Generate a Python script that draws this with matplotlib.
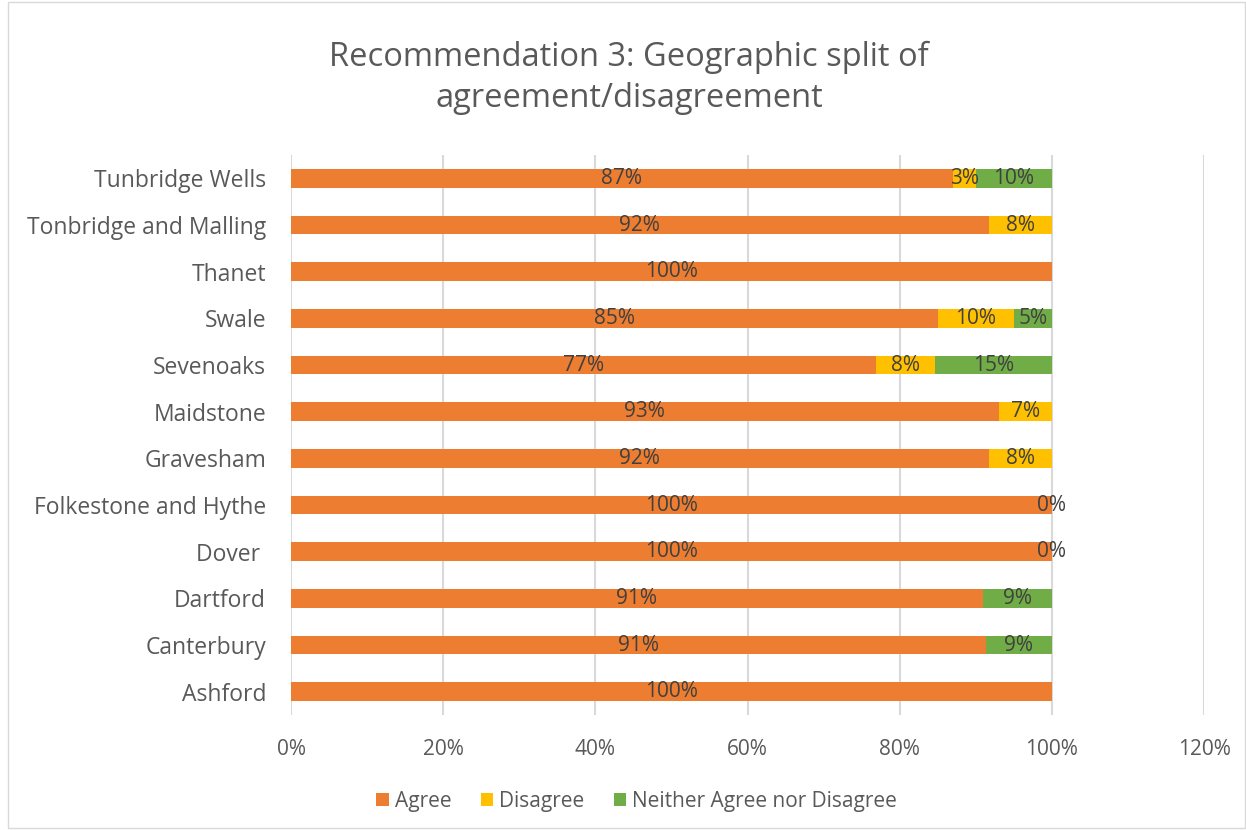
import numpy as np
import matplotlib.pyplot as plt
from matplotlib.patches import Rectangle

plt.rcParams['font.family'] = ['Open Sans', 'DejaVu Sans']

areas = ['Ashford', 'Canterbury', 'Dartford', 'Dover ', 'Folkestone and Hythe', 'Gravesham',
         'Maidstone', 'Sevenoaks', 'Swale', 'Thanet', 'Tonbridge and Malling', 'Tunbridge Wells']
agree = [100, 91.3, 90.9, 100, 100, 91.7, 93, 76.9, 85, 100, 91.7, 87]
disagree = [0, 0, 0, 0, 0, 8.3, 7, 7.7, 10, 0, 8.3, 3]
neither = [0, 8.7, 9.1, 0, 0, 0, 0, 15.4, 5, 0, 0, 10]
# which segments get a label (Excel shows 0% only for some)
show_agree = [True] * 12
show_dis = [False, False, False, True, True, True, True, True, True, False, True, True]
show_nei = [False, True, True, False, False, False, False, True, True, False, False, True]

colors = ['#ED7D31', '#FFC000', '#70AD47']
txt = '#404040'
lbl = 15

fig = plt.figure(figsize=(12.46, 8.3), dpi=100)
ax = fig.add_axes([291 / 1246, 1 - 715 / 830, (1204 - 291) / 1246, (715 - 155) / 830])

y = np.arange(len(areas))
a = np.array(agree) / 100
d = np.array(disagree) / 100
n = np.array(neither) / 100
h = 0.4
ax.barh(y, a, h, color=colors[0], label='Agree', zorder=2)
ax.barh(y, d, h, left=a, color=colors[1], label='Disagree', zorder=2)
ax.barh(y, n, h, left=a + d, color=colors[2], label='Neither Agree nor Disagree', zorder=2)

for i in range(len(areas)):
    if show_agree[i]:
        ax.text(a[i] / 2, y[i], f'{agree[i]:.0f}%', ha='center', va='center', fontsize=lbl, color=txt, zorder=3)
    if show_dis[i]:
        ax.text(a[i] + d[i] / 2, y[i], f'{disagree[i]:.0f}%', ha='center', va='center', fontsize=lbl, color=txt, zorder=3)
    if show_nei[i]:
        ax.text(a[i] + d[i] + n[i] / 2, y[i], f'{neither[i]:.0f}%', ha='center', va='center', fontsize=lbl, color=txt, zorder=3)

ax.set_xlim(0, 1.2)
ax.set_ylim(-0.5, len(areas) - 0.5)
ax.set_xticks(np.arange(0, 1.21, 0.2))
ax.set_xticklabels([f'{v}%' for v in range(0, 121, 20)])
ax.set_yticks(y)
ax.set_yticklabels(areas)
ax.tick_params(axis='both', length=0, labelcolor='#595959')
ax.tick_params(axis='x', pad=17, labelsize=lbl)
ax.tick_params(axis='y', pad=18, labelsize=16.5)
ax.grid(axis='x', color='#D9D9D9', linewidth=1.5, zorder=0)
for s in ax.spines.values():
    s.set_visible(False)

fig.text(0.505, 1 - 78 / 830, 'Recommendation 3: Geographic split of\nagreement/disagreement',
         ha='center', va='center', fontsize=23.5, color='#595959', linespacing=1.3)

fig.legend(loc='center', bbox_to_anchor=(0.511, 1 - 801 / 830), ncol=3, frameon=False,
           fontsize=lbl, labelcolor='#595959', handlelength=0.6, handleheight=0.6,
           handletextpad=0.3, columnspacing=1.4)

fig.patches.append(Rectangle((8 / 1246, 0.002), 1 - 9 / 1246, 0.995, transform=fig.transFigure,
                             fill=False, edgecolor='#D9D9D9', linewidth=1))

fig.savefig('out.png', dpi=100)
